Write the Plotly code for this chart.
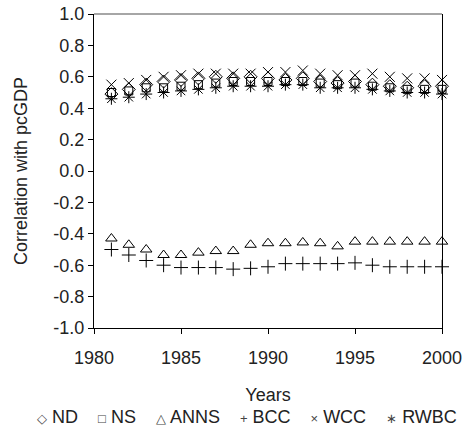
import plotly.graph_objects as go

years = list(range(1981, 2001))

nd = [0.49, 0.52, 0.55, 0.57, 0.58, 0.59, 0.60, 0.59, 0.60, 0.59,
      0.58, 0.59, 0.57, 0.56, 0.57, 0.55, 0.54, 0.53, 0.54, 0.54]
ns = [0.50, 0.51, 0.53, 0.53, 0.54, 0.55, 0.56, 0.57, 0.57, 0.57,
      0.57, 0.57, 0.56, 0.55, 0.56, 0.54, 0.53, 0.52, 0.52, 0.52]
anns = [-0.43, -0.47, -0.50, -0.535, -0.535, -0.52, -0.51, -0.51, -0.47, -0.46,
        -0.46, -0.455, -0.46, -0.48, -0.45, -0.45, -0.45, -0.45, -0.45, -0.45]
bcc = [-0.50, -0.535, -0.57, -0.60, -0.615, -0.615, -0.615, -0.625, -0.62, -0.61,
       -0.59, -0.59, -0.59, -0.59, -0.585, -0.60, -0.61, -0.61, -0.61, -0.61]
wcc = [0.55, 0.56, 0.58, 0.60, 0.61, 0.62, 0.62, 0.62, 0.62, 0.63,
       0.63, 0.64, 0.62, 0.61, 0.61, 0.62, 0.60, 0.59, 0.59, 0.58]
rwbc = [0.46, 0.47, 0.49, 0.50, 0.51, 0.52, 0.53, 0.54, 0.54, 0.54,
        0.55, 0.55, 0.53, 0.53, 0.53, 0.52, 0.51, 0.50, 0.50, 0.49]

series_names = ["ND", "NS", "ANNS", "BCC", "WCC", "RWBC"]
series_values = [nd, ns, anns, bcc, wcc, rwbc]
series_symbols = ["diamond-open", "square-open", "triangle-up-open",
                  "cross-thin-open", "x-thin-open", "asterisk-open"]
legend_glyphs = ["\u25c7", "\u25a1", "\u25b3", "+", "\u00d7", "\u2217"]

y_ticks = [1.0, 0.8, 0.6, 0.4, 0.2, 0.0, -0.2, -0.4, -0.6, -0.8, -1.0]
y_tick_text = ["%.1f" % v if v >= 0 else "-%.1f" % abs(v) for v in y_ticks]
x_ticks = [1980, 1985, 1990, 1995, 2000]

FONT = "Liberation Sans, Arial, sans-serif"
TXT = "#222"

fig = go.Figure()
for name, vals, sym in zip(series_names, series_values, series_symbols):
    size = 8 if sym == "square-open" else 10
    fig.add_trace(go.Scatter(
        x=years, y=vals, mode="markers", name=name,
        marker=dict(symbol=sym, size=size, color="black",
                    line=dict(color="black", width=1)),
        cliponaxis=False, showlegend=False,
    ))

legend_html = "&nbsp;&nbsp;&nbsp;&nbsp;".join(
    '<span style="font-size:13px;color:#444">%s</span> %s' % (g, n)
    for g, n in zip(legend_glyphs, series_names))

fig.update_layout(
    width=467, height=429,
    margin=dict(l=94, r=25, t=14, b=101),
    paper_bgcolor="white", plot_bgcolor="white",
    font=dict(family=FONT, size=18, color=TXT),
    xaxis=dict(range=[1980, 2000], tickvals=x_ticks, ticks="outside", ticklen=5,
               tickcolor="black", showgrid=False, zeroline=False, showline=True,
               linecolor="black", linewidth=1, mirror=False, automargin=False,
               ticklabelstandoff=8,
               tickfont=dict(size=18, color=TXT),
               title=dict(text="Years", standoff=21, font=dict(size=18, color=TXT))),
    yaxis=dict(range=[-1.0, 1.0], tickvals=y_ticks, ticktext=y_tick_text,
               ticks="outside", ticklen=5, tickcolor="black", showgrid=False,
               zeroline=False, showline=True, linecolor="black", linewidth=1,
               mirror=True, automargin=False,
               tickfont=dict(size=18, color=TXT),
               title=dict(text="Correlation with pcGDP", standoff=21,
                          font=dict(size=18, color=TXT))),
    shapes=[dict(type="line", xref="paper", yref="paper", x0=0, x1=1, y0=1, y1=1,
                 line=dict(color="#888", width=1.5))],
    annotations=[dict(text=legend_html, xref="paper", yref="paper",
                      x=0.44, y=0, xanchor="center", yanchor="middle",
                      yshift=-89, showarrow=False,
                      font=dict(family=FONT, size=18, color=TXT))],
)

fig.write_html("out.html", config={"displayModeBar": False},
               post_script="document.body.style.margin='0';")
